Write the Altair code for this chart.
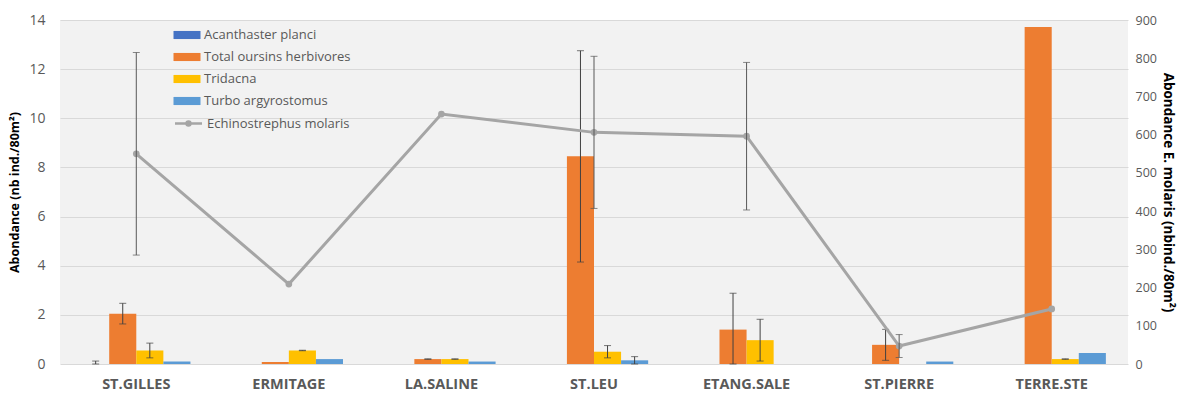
import altair as alt
import pandas as pd

sites = ["ST.GILLES", "ERMITAGE", "LA.SALINE", "ST.LEU", "ETANG.SALE", "ST.PIERRE", "TERRE.STE"]
series = ["Acanthaster planci", "Total oursins herbivores", "Tridacna", "Turbo argyrostomus"]
colors = ["#4472C4", "#ED7D31", "#FFC000", "#5B9BD5"]

acanthaster = [0, 0, 0, 0, 0, 0, 0]
acanthaster_err = [0.12, 0, 0, 0, 0, 0, 0]
oursins = [2.05, 0.08, 0.2, 8.45, 1.4, 0.78, 13.72]
oursins_err = [0.42, 0, 0.01, 4.3, 1.48, 0.63, 0]
tridacna = [0.55, 0.55, 0.2, 0.5, 0.97, 0, 0.2]
tridacna_err = [0.3, 0.01, 0.01, 0.25, 0.85, 0, 0.01]
turbo = [0.1, 0.2, 0.1, 0.15, 0, 0.1, 0.45]
turbo_err = [0, 0, 0, 0.15, 0, 0, 0]

line_name = "Echinostrephus molaris"
echino = [550, 209, 654, 606, 596, 47, 144]
echino_err = [265, 0, 0, 199, 193, 30, 0]

rows = []
for name, vals, errs in zip(series, [acanthaster, oursins, tridacna, turbo],
                            [acanthaster_err, oursins_err, tridacna_err, turbo_err]):
    for s, v, e in zip(sites, vals, errs):
        rows.append({"site": s, "series": name, "val": v,
                     "lo": max(v - e, 0), "hi": v + e, "has_err": e > 0})
bars_df = pd.DataFrame(rows)
err_df = bars_df[bars_df["has_err"]]

line_df = pd.DataFrame({"site": sites, "series": line_name, "val": echino,
                        "lo": [max(v - e, 0) for v, e in zip(echino, echino_err)],
                        "hi": [v + e for v, e in zip(echino, echino_err)],
                        "err": echino_err})
lerr_df = line_df[line_df["err"] > 0]

xscale = alt.Scale(domain=sites, paddingInner=0.29, paddingOuter=0.145)
xenc = alt.X("site:N", scale=xscale, sort=sites,
             axis=alt.Axis(title=None, labelAngle=0, labelFontWeight="bold", labelFontSize=14.5,
                           labelColor="#595959", labelFont="Open Sans", ticks=False, domain=False,
                           labelPadding=13))
xoff = alt.XOffset("series:N", scale=alt.Scale(domain=series, paddingInner=0, paddingOuter=0),
                   sort=series)

left_axis = alt.Axis(title="Abondance (nb ind./80m²)", values=list(range(0, 15, 2)),
                     grid=True, gridColor="#D9D9D9", gridWidth=1, domain=False, ticks=False,
                     labelColor="#595959", labelFontSize=14, labelPadding=15, labelFont="Open Sans",
                     titleFontWeight="bold", titleFontSize=12.5, titleColor="#000000",
                     titleFont="Open Sans", titlePadding=7)
lscale = alt.Scale(domain=[0, 14], nice=False, zero=True)

right_axis = alt.Axis(title="Abondance E. molaris (nbind./80m²)", values=list(range(0, 901, 100)),
                      orient="right", grid=False, domain=False, ticks=False,
                      labelColor="#595959", labelFontSize=12.5, labelPadding=7, labelFont="Open Sans",
                      titleFontWeight="bold", titleFontSize=13.5, titleColor="#000000",
                      titleFont="Open Sans", titlePadding=4)
rscale = alt.Scale(domain=[0, 900], nice=False, zero=True)

bar_legend = alt.Legend(title=None, orient="none", legendX=118, legendY=6,
                        symbolType="M-1.5,-0.45L1.5,-0.45L1.5,0.45L-1.5,0.45Z", symbolSize=324,
                        symbolStrokeWidth=0, labelFontSize=13, labelColor="#595959",
                        labelFont="Open Sans", rowPadding=6, labelOffset=8)

bars = alt.Chart(bars_df).mark_bar().encode(
    x=xenc, xOffset=xoff,
    y=alt.Y("val:Q", scale=lscale, axis=left_axis),
    color=alt.Color("series:N", scale=alt.Scale(domain=series, range=colors), legend=bar_legend),
)
err_rules = alt.Chart(err_df).mark_rule(color="#404040", strokeWidth=1).encode(
    x=xenc, xOffset=xoff,
    y=alt.Y("lo:Q", scale=lscale, axis=left_axis), y2="hi:Q",
)
err_caps_hi = alt.Chart(err_df).mark_tick(color="#404040", thickness=1, size=7, orient="horizontal").encode(
    x=xenc, xOffset=xoff, y=alt.Y("hi:Q", scale=lscale, axis=left_axis))
err_caps_lo = alt.Chart(err_df).mark_tick(color="#404040", thickness=1, size=7, orient="horizontal").encode(
    x=xenc, xOffset=xoff, y=alt.Y("lo:Q", scale=lscale, axis=left_axis))

left = alt.layer(bars, err_rules, err_caps_hi, err_caps_lo)

line_legend = alt.Legend(title=None, orient="none", legendX=118, legendY=93,
                         symbolType="M-1.5,0L1.5,0M-0.22,0A0.22,0.22,0,1,0,0.22,0A0.22,0.22,0,1,0,-0.22,0",
                         symbolSize=324, symbolStrokeWidth=2.5, symbolFillColor="#A5A5A5",
                         labelFontSize=13, labelColor="#595959", labelFont="Open Sans", labelOffset=8)

line = alt.Chart(line_df).mark_line(strokeWidth=3).encode(
    x=xenc,
    y=alt.Y("val:Q", scale=rscale, axis=right_axis),
    stroke=alt.Stroke("series:N", scale=alt.Scale(domain=[line_name], range=["#A5A5A5"]),
                      legend=line_legend),
)
pts = alt.Chart(line_df).mark_point(filled=True, size=45, color="#A5A5A5", opacity=1).encode(
    x=xenc, y=alt.Y("val:Q", scale=rscale, axis=right_axis))
lerr = alt.Chart(lerr_df).mark_rule(color="#595959", strokeWidth=1).encode(
    x=xenc, y=alt.Y("lo:Q", scale=rscale, axis=right_axis), y2="hi:Q")
lcap_hi = alt.Chart(lerr_df).mark_tick(color="#595959", thickness=1, size=7, orient="horizontal").encode(
    x=xenc, y=alt.Y("hi:Q", scale=rscale, axis=right_axis))
lcap_lo = alt.Chart(lerr_df).mark_tick(color="#595959", thickness=1, size=7, orient="horizontal").encode(
    x=xenc, y=alt.Y("lo:Q", scale=rscale, axis=right_axis))

right = alt.layer(line, pts, lerr, lcap_hi, lcap_lo)

chart = alt.layer(left, right).resolve_scale(y="independent", color="independent", stroke="independent").properties(
    width=1068, height=344,
    autosize=alt.AutoSizeParams(type="none"),
    padding={"left": 60, "top": 20, "right": 51, "bottom": 33},
    background="#FFFFFF",
).configure_view(fill="#F2F2F2", stroke=None)

chart.save("out.html", embed_options={"renderer": "svg", "actions": False})
